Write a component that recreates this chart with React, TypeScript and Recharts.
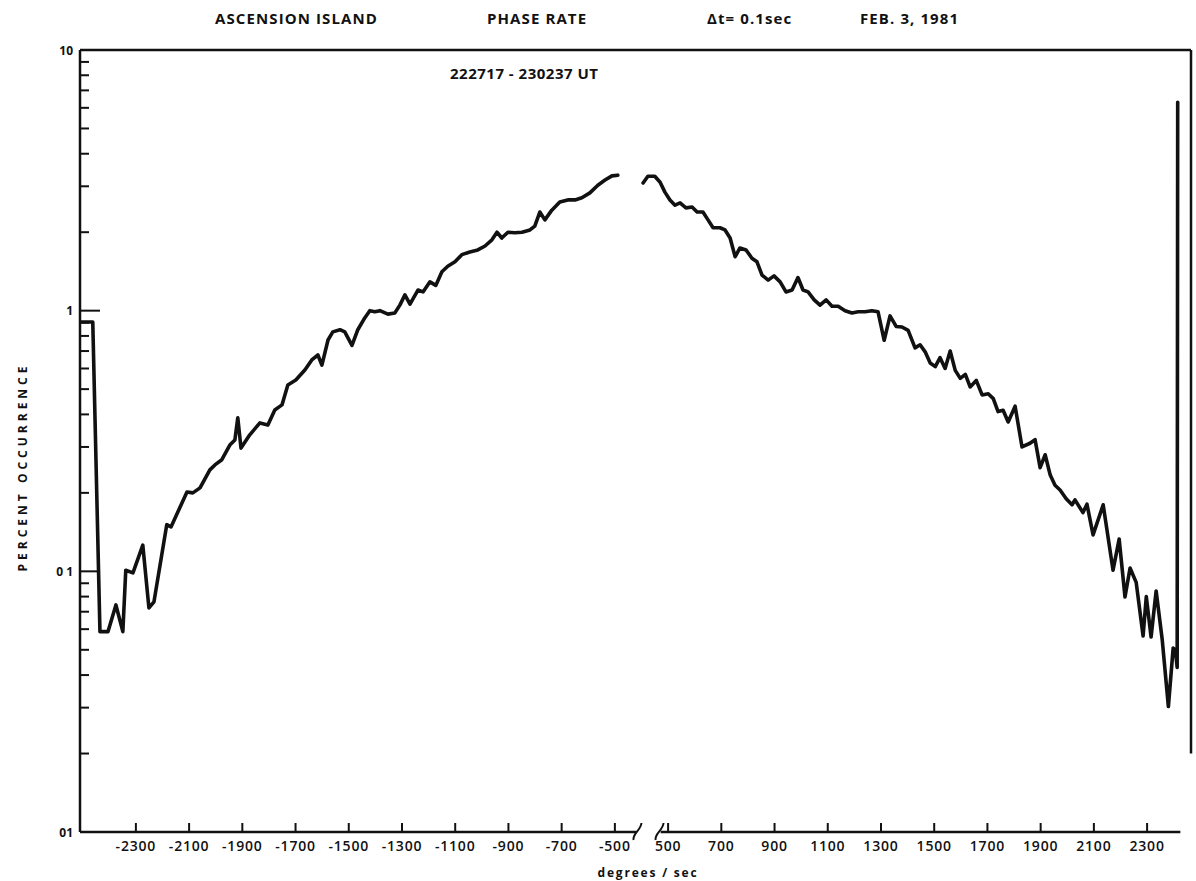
import React from 'react';
import { LineChart, Line, XAxis, YAxis, ReferenceLine, ReferenceDot } from 'recharts';

// ---- data (degrees/sec, percent occurrence) ----
const leftRates = [-2508, -2462, -2435, -2405, -2375, -2349, -2338, -2311, -2274, -2251, -2232, -2184, -2168, -2108, -2086, -2059, -2022, -2003, -1977, -1947, -1928, -1917, -1905, -1872, -1834, -1804, -1778, -1751, -1729, -1699, -1665, -1639, -1616, -1601, -1578, -1560, -1533, -1515, -1488, -1466, -1440, -1421, -1402, -1383, -1353, -1327, -1308, -1289, -1270, -1240, -1221, -1195, -1173, -1150, -1128, -1101, -1075, -1045, -1015, -988, -962, -943, -925, -902, -876, -849, -819, -801, -782, -763, -737, -707, -677, -650, -624, -594, -564, -537, -511, -489];
const leftPercents = [0.905, 0.905, 0.0587, 0.0587, 0.0743, 0.0587, 0.101, 0.0986, 0.126, 0.0724, 0.0764, 0.151, 0.148, 0.2016, 0.2, 0.209, 0.245, 0.256, 0.268, 0.305, 0.319, 0.388, 0.297, 0.334, 0.371, 0.364, 0.416, 0.435, 0.519, 0.542, 0.592, 0.647, 0.676, 0.618, 0.772, 0.829, 0.845, 0.829, 0.736, 0.845, 0.938, 1.0, 0.99, 1.0, 0.97, 0.98, 1.05, 1.15, 1.06, 1.2, 1.18, 1.29, 1.25, 1.41, 1.48, 1.54, 1.64, 1.68, 1.71, 1.77, 1.87, 2.0, 1.9, 2.0, 1.99, 2.0, 2.04, 2.11, 2.39, 2.23, 2.43, 2.61, 2.66, 2.66, 2.71, 2.83, 3.03, 3.17, 3.29, 3.31];

const rightRates = [406, 424, 450, 470, 488, 507, 526, 545, 567, 590, 609, 631, 650, 669, 695, 714, 733, 752, 770, 793, 815, 834, 853, 876, 898, 921, 943, 966, 988, 1007, 1026, 1049, 1071, 1094, 1116, 1139, 1165, 1191, 1214, 1240, 1266, 1289, 1312, 1334, 1357, 1379, 1402, 1428, 1447, 1466, 1485, 1504, 1522, 1541, 1560, 1579, 1598, 1617, 1635, 1658, 1680, 1703, 1722, 1740, 1759, 1778, 1804, 1830, 1860, 1879, 1898, 1917, 1936, 1954, 1973, 1996, 2018, 2029, 2059, 2074, 2097, 2135, 2172, 2195, 2217, 2236, 2259, 2285, 2297, 2315, 2334, 2357, 2380, 2398, 2406, 2413, 2415];
const rightPercents = [3.09, 3.28, 3.28, 3.11, 2.85, 2.66, 2.54, 2.59, 2.48, 2.5, 2.39, 2.39, 2.23, 2.08, 2.08, 2.04, 1.9, 1.61, 1.74, 1.71, 1.59, 1.54, 1.37, 1.31, 1.36, 1.29, 1.18, 1.2, 1.34, 1.2, 1.18, 1.1, 1.05, 1.1, 1.04, 1.04, 1.0, 0.98, 0.99, 0.99, 1.0, 0.99, 0.77, 0.955, 0.87, 0.866, 0.84, 0.72, 0.74, 0.695, 0.63, 0.61, 0.66, 0.6, 0.7, 0.59, 0.55, 0.57, 0.51, 0.54, 0.475, 0.48, 0.46, 0.41, 0.415, 0.374, 0.43, 0.3, 0.31, 0.32, 0.25, 0.28, 0.234, 0.214, 0.205, 0.19, 0.18, 0.188, 0.168, 0.181, 0.138, 0.18, 0.101, 0.133, 0.0797, 0.103, 0.0907, 0.0565, 0.08, 0.056, 0.084, 0.0545, 0.0303, 0.0508, 0.05, 0.0428, 6.3];

const leftTicks = [-2300, -2100, -1900, -1700, -1500, -1300, -1100, -900, -700, -500];
const rightTicks = [500, 700, 900, 1100, 1300, 1500, 1700, 1900, 2100, 2300];
const yMajorTicks = [0.01, 0.1, 1, 10];
const yMajorLabels = ['01', '0 1', '1', '10'];

const titleParts = ['ASCENSION ISLAND', 'PHASE RATE', 'Δt= 0.1sec', 'FEB. 3, 1981'];
const subtitle = '222717 - 230237 UT';
const yTitle = 'PERCENT OCCURRENCE';
const xTitle = 'degrees / sec';

// broken axis: the right half is shifted left so that the gap -500..500 is compressed
const GAP_SHIFT = 800;
const toAxis = (v: number) => (v < 0 ? v : v - GAP_SHIFT);
const fromAxis = (u: number) => (u <= -500 ? u : u + GAP_SHIFT);

const X_DOMAIN: [number, number] = [-2510, 1665];

const leftData = leftRates.map((r, i) => ({ u: toAxis(r), p: leftPercents[i] }));
const rightData = rightRates.map((r, i) => ({ u: toAxis(r), p: rightPercents[i] }));

const xTicks = [...leftTicks, ...rightTicks].map(toAxis);

const yTicks: number[] = [];
[0.01, 0.1, 1].forEach((d) => {
  for (let k = 1; k <= 9; k++) yTicks.push(Number((d * k).toPrecision(3)));
});
yTicks.push(10);

const FONT = '"Open Sans", "DejaVu Sans", sans-serif';
const INK = '#111';

const YTick = (props: any) => {
  const { x, y, payload } = props;
  const v = payload.value as number;
  const majorIdx = yMajorTicks.findIndex((m) => Math.abs(m - v) / m < 1e-6);
  const isMajor = majorIdx >= 0;
  const showLine = v !== 10 && v !== 0.01;
  return (
    <g>
      {showLine && (
        <line x1={x} x2={x + (isMajor ? 20 : 9)} y1={y} y2={y} stroke={INK} strokeWidth={2} />
      )}
      {isMajor && (
        <text x={x - 7} y={y} textAnchor="end" dominantBaseline="central" fontFamily={FONT} fontWeight={700} fontSize={12} fill={INK}>
          {yMajorLabels[majorIdx]}
        </text>
      )}
    </g>
  );
};

const XTick = (props: any) => {
  const { x, y, payload } = props;
  const label = String(fromAxis(payload.value));
  return (
    <g>
      <line x1={x} x2={x} y1={y} y2={y - 9} stroke={INK} strokeWidth={2} />
      <text x={x} y={y + 13} textAnchor="middle" dominantBaseline="central" fontFamily={FONT} fontWeight={600} fontSize={14} letterSpacing={0.8} fill={INK}>
        {label}
      </text>
    </g>
  );
};

const BreakMark = (props: any) => {
  const { cx, cy } = props;
  return (
    <path
      d={`M ${cx - 4} ${cy + 8} C ${cx - 5} ${cy + 1}, ${cx + 3} ${cy - 1}, ${cx + 4} ${cy - 9}`}
      stroke={INK}
      strokeWidth={2}
      fill="none"
    />
  );
};

export default function App() {
  return (
    <div style={{ position: 'absolute', left: 0, top: 0, width: 1196, height: 881, background: '#fff' }}>
      <LineChart
        width={1196}
        height={881}
        margin={{ top: 50, right: 5, bottom: 19, left: 20 }}
      >
        <XAxis
          dataKey="u"
          type="number"
          domain={X_DOMAIN}
          ticks={xTicks}
          interval={0}
          allowDataOverflow
          axisLine={false}
          tickLine={false}
          tickSize={0}
          tickMargin={0}
          height={30}
          tick={<XTick />}
        />
        <YAxis
          type="number"
          scale="log"
          domain={[0.01, 10]}
          allowDataOverflow
          ticks={yTicks}
          interval={0}
          width={60}
          axisLine={{ stroke: INK, strokeWidth: 2.5 }}
          tickLine={false}
          tickSize={0}
          tickMargin={0}
          tick={<YTick />}
        />
        {/* frame */}
        <ReferenceLine y={10} stroke={INK} strokeWidth={2.5} ifOverflow="visible" />
        <ReferenceLine
          segment={[{ x: X_DOMAIN[1], y: 10 }, { x: X_DOMAIN[1], y: 0.02 }]}
          stroke={INK}
          strokeWidth={2.5}
          ifOverflow="visible"
        />
        <ReferenceLine
          segment={[{ x: X_DOMAIN[0], y: 0.01 }, { x: -418, y: 0.01 }]}
          stroke={INK}
          strokeWidth={2.5}
          ifOverflow="visible"
        />
        <ReferenceLine
          segment={[{ x: -328, y: 0.01 }, { x: X_DOMAIN[1] - 40, y: 0.01 }]}
          stroke={INK}
          strokeWidth={2.5}
          ifOverflow="visible"
        />
        <ReferenceDot x={-415} y={0.01} ifOverflow="visible" shape={<BreakMark />} />
        <ReferenceDot x={-332} y={0.01} ifOverflow="visible" shape={<BreakMark />} />

        <Line
          data={leftData}
          dataKey="p"
          type="linear"
          stroke={INK}
          strokeWidth={3.6}
          strokeLinejoin="round"
          strokeLinecap="round"
          dot={false}
          isAnimationActive={false}
        />
        <Line
          data={rightData}
          dataKey="p"
          type="linear"
          stroke={INK}
          strokeWidth={3.6}
          strokeLinejoin="round"
          strokeLinecap="round"
          dot={false}
          isAnimationActive={false}
        />
      </LineChart>

      {/* titles */}
      <div style={{ position: 'absolute', top: 8, left: 0, width: 1196, height: 20, fontFamily: FONT, fontWeight: 700, fontSize: 15, letterSpacing: 1.1, color: INK, whiteSpace: 'nowrap' }}>
        <span style={{ position: 'absolute', left: 215 }}>{titleParts[0]}</span>
        <span style={{ position: 'absolute', left: 487 }}>{titleParts[1]}</span>
        <span style={{ position: 'absolute', left: 707 }}>{titleParts[2]}</span>
        <span style={{ position: 'absolute', left: 860 }}>{titleParts[3]}</span>
      </div>
      <div style={{ position: 'absolute', top: 63, left: 450, fontFamily: FONT, fontWeight: 700, fontSize: 15, letterSpacing: 0.5, color: INK, whiteSpace: 'nowrap' }}>
        {subtitle}
      </div>
      <div
        style={{
          position: 'absolute',
          left: 22,
          top: 467,
          transform: 'translate(-50%, -50%) rotate(-90deg)',
          fontFamily: FONT,
          fontWeight: 700,
          fontSize: 12,
          letterSpacing: 4,
          color: INK,
          whiteSpace: 'nowrap',
        }}
      >
        {yTitle}
      </div>
      <div
        style={{
          position: 'absolute',
          left: 648,
          top: 872,
          transform: 'translate(-50%, -50%)',
          fontFamily: FONT,
          fontWeight: 700,
          fontSize: 12,
          letterSpacing: 1.8,
          color: INK,
          whiteSpace: 'nowrap',
        }}
      >
        {xTitle}
      </div>
    </div>
  );
}
